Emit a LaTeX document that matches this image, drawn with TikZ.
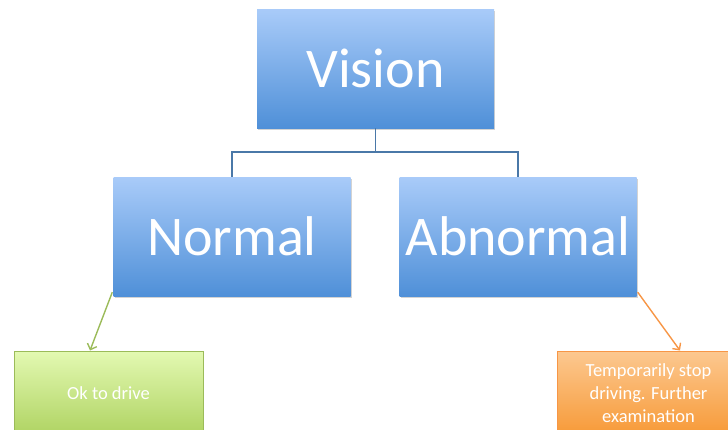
\documentclass[tikz,border=0pt]{standalone}
\usepackage{fontspec}
\setmainfont{Carlito}
\usetikzlibrary{arrows.meta,shadows}
\definecolor{bluetop}{HTML}{A9CBF9}
\definecolor{bluebot}{HTML}{4F90D8}
\definecolor{greentop}{HTML}{E3F9B2}
\definecolor{greenbot}{HTML}{AFD362}
\definecolor{greenline}{HTML}{9BBB59}
\definecolor{orangetop}{HTML}{FCC890}
\definecolor{orangebot}{HTML}{F79A38}
\definecolor{orangeline}{HTML}{F79646}
\definecolor{linkblue}{HTML}{4A78A8}
\tikzset{
  bluebox/.style={rectangle, minimum width=237pt, minimum height=119pt, inner sep=0pt,
    top color=bluetop, bottom color=bluebot, draw=none, text=white,
    font=\fontsize{56}{60}\selectfont, drop shadow={shadow xshift=1pt, shadow yshift=-1.5pt, opacity=0.35}},
  greenbox/.style={rectangle, minimum width=189pt, minimum height=84pt, inner sep=0pt,
    top color=greentop, bottom color=greenbot, draw=greenline, line width=1pt, text=white,
    font=\fontsize{18.5}{22}\selectfont},
  orangebox/.style={rectangle, minimum width=183pt, minimum height=84pt, inner sep=0pt,
    top color=orangetop, bottom color=orangebot, draw=orangeline, line width=1pt, text=white,
    font=\fontsize{18.5}{23}\selectfont, align=center},
  link/.style={draw=linkblue, line width=1.4pt},
  garrow/.style={draw=greenline, line width=1.4pt, -{Straight Barb[length=5pt,width=10pt]}},
  oarrow/.style={draw=orangeline, line width=1.4pt, -{Straight Barb[length=5pt,width=10pt]}}
}
\begin{document}
\begin{tikzpicture}[x=1pt,y=-1pt]
\useasboundingbox (0,0) rectangle (728,429);
\begin{scope}
\clip (0,0) rectangle (728,429);
\node[bluebox] (vision) at (375.5,68.5) {Vision};
\node[bluebox] (normal) at (232,236.5) {Normal};
\node[bluebox] (abnormal) at (518,236.5) {Abnormal};
\node[greenbox] (ok) at (108.5,393) {Ok to drive};
\node[orangebox] (stop) at (648.5,393) {Temporarily stop\\driving. Further\\examination};
\coordinate (mid) at (375.5,152);
\coordinate (okin) at ([xshift=-18.5pt]ok.north);
\coordinate (stopin) at ([xshift=31.5pt]stop.north);
\draw[link] (vision.south) -- (mid);
\draw[link] (normal.north) |- (mid) -| (abnormal.north);
\draw[garrow] ([xshift=-1pt,yshift=4pt]normal.south west) -- (okin);
\draw[oarrow] ([xshift=1pt,yshift=4pt]abnormal.south east) -- (stopin);
\end{scope}
\end{tikzpicture}
\end{document}
